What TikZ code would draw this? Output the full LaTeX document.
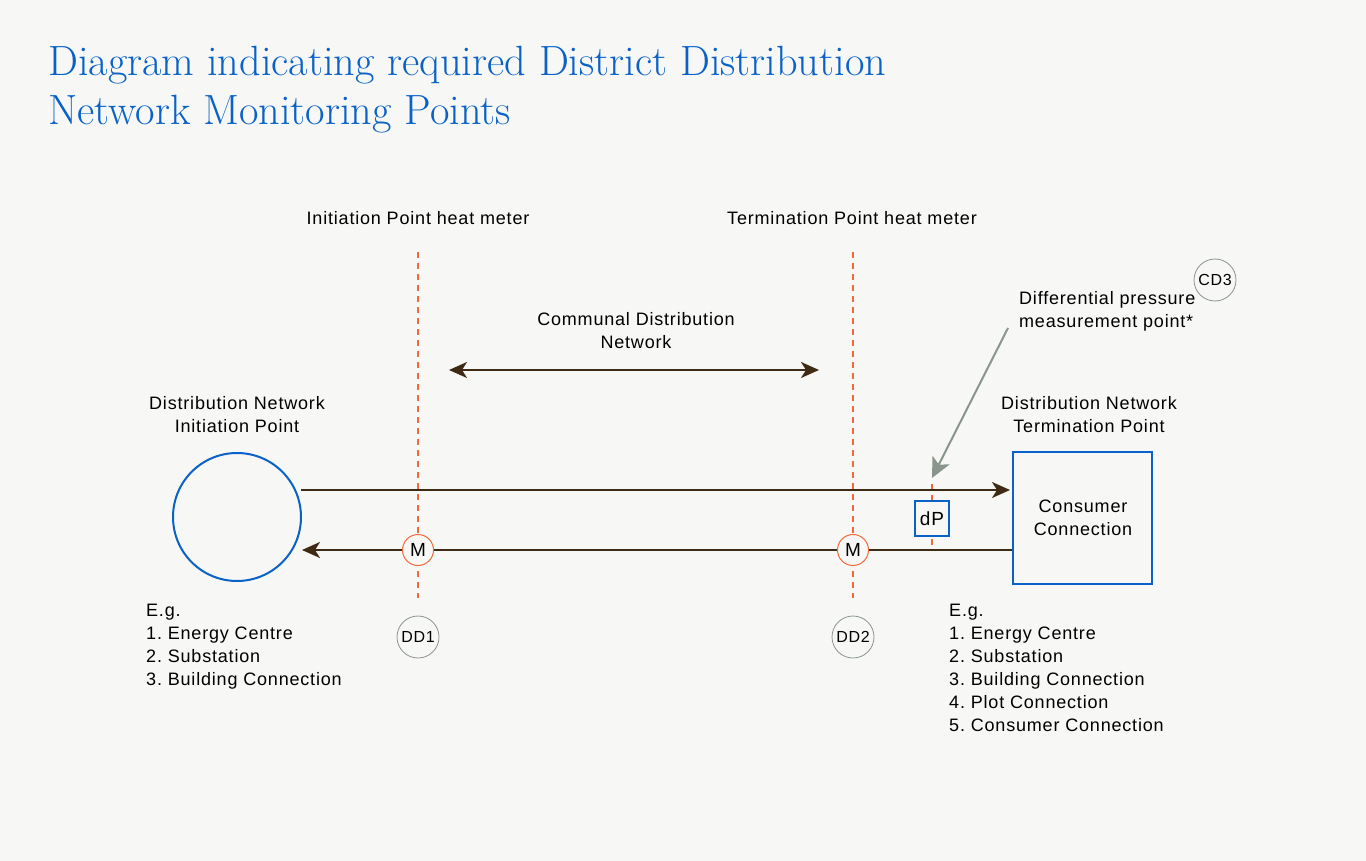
\documentclass[tikz,border=0pt]{standalone}
\usepackage{fontspec}
\setsansfont{Liberation Sans}[LetterSpace=4.5]
\usetikzlibrary{arrows.meta}
\definecolor{bgc}{HTML}{F7F7F5}
\definecolor{bluec}{HTML}{0A62C8}
\definecolor{pipec}{HTML}{3F2A14}
\definecolor{redc}{HTML}{F26A3C}
\definecolor{grayc}{HTML}{8A958D}
\frenchspacing
\begin{document}
\begin{tikzpicture}[x=1pt,y=-1pt,
  body/.style={font=\sffamily\fontsize{18}{23}\selectfont, text=black, inner sep=0pt},
  pipe/.style={draw=pipec, line width=2pt},
  rtip/.style={-{Stealth[length=18pt,width=16pt,inset=5pt]}},
  meter/.style={circle, draw=redc, fill=bgc, line width=1pt, minimum size=31pt, inner sep=0pt, font=\sffamily\fontsize{19}{19}\selectfont},
  tagc/.style={circle, draw=grayc, line width=0.8pt, minimum size=42pt, inner sep=0pt, font=\sffamily\fontsize{16}{16}\selectfont},
  reddash/.style={draw=redc, line width=2pt, dash pattern=on 6pt off 5pt},
  bluebox/.style={draw=bluec, line width=2pt, fill=bgc, inner sep=0pt}
]
\fill[bgc] (0,0) rectangle (1366,861);
\useasboundingbox (0,0) rectangle (1366,861);

% title
\node[anchor=base west, inner sep=0pt, align=left, text=bluec, font=\rmfamily\fontsize{42.3}{49}\selectfont] (title) at (48,125)
  {Diagram indicating required District Distribution\\Network Monitoring Points};

% labels
\node[body] (lab1) at (418,218) {Initiation Point heat meter};
\node[body] (lab2) at (852,218) {Termination Point heat meter};
\node[body, align=center] (comm) at (636,331) {Communal Distribution\\Network};
\node[body, align=center] (initlab) at (237,415) {Distribution Network\\Initiation Point};
\node[body, align=center] (termlab) at (1089,415) {Distribution Network\\Termination Point};
\node[body, align=left, anchor=west] (dplab) at (1019,311) {Differential pressure\\measurement point*};

% main shapes
\node[circle, draw=bluec, line width=2pt, minimum size=128pt, inner sep=0pt] (init) at (237,517) {};
\node[bluebox, minimum width=139pt, minimum height=132pt] (cons) at (1082.5,518) {};
\node[body, align=center] (constext) at (1083,518) {Consumer\\Connection};

% coordinates
\coordinate (s1) at (301,490);
\coordinate (e2) at (302,550);
\coordinate (d1t) at (418,252);
\coordinate (d1b) at (418,598);
\coordinate (d2t) at (853,252);
\coordinate (d2b) at (853,598);
\coordinate (d3t) at (932,484);
\coordinate (d3b) at (932,550);
\coordinate (c1) at (449,370);
\coordinate (c2) at (819,370);
\coordinate (g1) at (1008,328);
\coordinate (g2) at (932,478);

% dashed meter lines
\draw[reddash] (d1t) -- (d1b);
\draw[reddash] (d2t) -- (d2b);
\draw[reddash] (d3t) -- (d3b);

% pipes
\draw[pipe, rtip, shorten >=2pt] (s1) -- (cons.west |- s1);
\draw[pipe, rtip] (cons.west |- e2) -- (e2);
\draw[pipe, {Stealth[length=18pt,width=16pt,inset=5pt]}-{Stealth[length=18pt,width=16pt,inset=5pt]}] (c1) -- (c2);

% gray pointer
\draw[draw=grayc, fill=grayc, line width=2pt, -{Stealth[length=20pt,width=19pt,inset=5pt]}] (g1) -- (g2);

% meters
\node[meter] (m1) at (418,550) {M};
\node[meter] (m2) at (853,550) {M};
\node[bluebox, minimum width=34pt, minimum height=35pt, font=\sffamily\fontsize{19}{19}\selectfont] (dp) at (932,518.5) {dP};

% tags
\node[tagc] (dd1) at (418,637) {DD1};
\node[tagc] (dd2) at (853,637) {DD2};
\node[tagc] (cd3) at (1215,280) {CD3};

% lists
\node[body, align=left, anchor=north west] (list1) at (146,604) {E.g.\\1. Energy Centre\\2. Substation\\3. Building Connection};
\node[body, align=left, anchor=north west] (list2) at (949,604) {E.g.\\1. Energy Centre\\2. Substation\\3. Building Connection\\4. Plot Connection\\5. Consumer Connection};
\end{tikzpicture}
\end{document}
